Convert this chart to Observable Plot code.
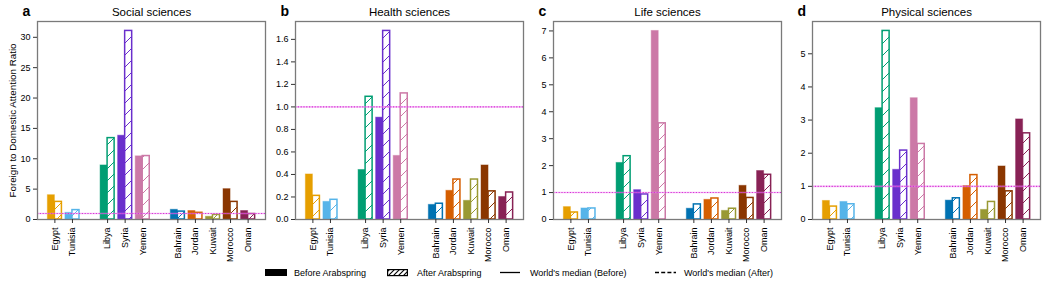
<!DOCTYPE html>
<html><head><meta charset="utf-8">
<script src="https://cdn.jsdelivr.net/npm/d3@7"></script>
<script src="https://cdn.jsdelivr.net/npm/@observablehq/plot@0.6"></script>
<style>
body{margin:0;background:#fff;font-family:"Liberation Sans",Arial,Helvetica,sans-serif;}
#wrap{position:relative;width:1046px;height:290px;overflow:hidden;background:#fff;}
.panel{position:absolute;top:0;}
.panel svg{overflow:visible;}
#legend{position:absolute;top:262px;left:255px;width:540px;height:22px;background:#fff;z-index:2;font-size:9px;color:#000;}
#legend .lab{position:absolute;top:5px;white-space:nowrap;line-height:12px;}
</style></head><body><div id="wrap"></div>
<script>
// ---- data ----
const countries = ["Egypt","Tunisia","Libya","Syria","Yemen","Bahrain","Jordan","Kuwait","Morocco","Oman"];
const groupOf   = [0,0,1,1,1,2,2,2,2,2];
const colors    = ["#E69F00","#56B4E9","#009E73","#6A2FCC","#CC79A7","#0072B2","#D55E00","#999933","#8A3600","#882255"];
const panelTitles = ["Social sciences","Health sciences","Life sciences","Physical sciences"];
const panelLetters = ["a","b","c","d"];

const socialBefore = [4.0,1.1,8.9,13.8,10.4,1.6,1.4,0.45,5.0,1.4];
const socialAfter  = [2.9,1.55,13.4,31.05,10.45,1.3,1.1,0.75,2.9,0.9];
const healthBefore = [0.40,0.157,0.44,0.905,0.565,0.13,0.255,0.166,0.48,0.20];
const healthAfter  = [0.21,0.175,1.09,1.675,1.12,0.14,0.355,0.355,0.25,0.24];
const lifeBefore   = [0.46,0.41,2.1,1.09,7.0,0.40,0.73,0.32,1.25,1.8];
const lifeAfter    = [0.26,0.41,2.35,0.93,3.57,0.56,0.78,0.40,0.80,1.66];
const physBefore   = [0.56,0.53,3.36,1.5,3.66,0.57,1.01,0.29,1.6,3.02];
const physAfter    = [0.39,0.46,5.69,2.08,2.28,0.64,1.34,0.53,0.85,2.6];

const medianBefore = [1,1,1,1];
const medianAfter  = [1,1,1,1];

const yTicksSocial  = [0,5,10,15,20,25,30];
const yTicksHealth  = [0,0.2,0.4,0.6,0.8,1.0,1.2,1.4,1.6];
const yTicksLife    = [0,1,2,3,4,5,6,7];
const yTicksPhys    = [0,1,2,3,4,5];

const yLabel = "Foreign to Domestic Attention Ratio";
const legendLabels = ["Before Arabspring","After Arabspring","World's median (Before)","World's median (After)"];

// ---- layout ----
const befores = [socialBefore, healthBefore, lifeBefore, physBefore];
const afters  = [socialAfter, healthAfter, lifeAfter, physAfter];
const yTicks  = [yTicksSocial, yTicksHealth, yTicksLife, yTicksPhys];
const yFormats = [d3.format("d"), d3.format(".1f"), d3.format("d"), d3.format("d")];
const frameLeft = [37, 295, 553, 812];
const frameW = 228;
const barW = 0.4;
const pos = countries.map((c, i) => i + groupOf[i]);
const posName = new Map(pos.map((p, i) => [p, countries[i]]));
const ext = [d3.min(pos) - barW, d3.max(pos) + barW];
const pad = (ext[1] - ext[0]) * 0.05;
const xDomain = [ext[0] - pad, ext[1] + pad];

const wrap = document.getElementById("wrap");

panelTitles.forEach((title, p) => {
  const rows = [];
  countries.forEach((c, i) => {
    rows.push({c, i, x1: pos[i] - barW, x2: pos[i], v: befores[p][i], after: false,
               fill: colors[i], stroke: colors[i]});
    rows.push({c, i, x1: pos[i], x2: pos[i] + barW, v: afters[p][i], after: true,
               fill: `url(#hatch-${p}-${i})`, stroke: colors[i]});
  });
  const yMax = d3.max([...befores[p], ...afters[p]]) * 1.05;
  const mL = p === 0 ? 37 : 30, mR = 2;
  const chart = Plot.plot({
    width: mL + frameW + mR, height: 270,
    marginLeft: mL, marginRight: mR, marginTop: 21, marginBottom: 51,
    style: {fontFamily: '"Liberation Sans",Arial,sans-serif', fontSize: "9px", color: "#000", background: "transparent", overflow: "visible"},
    x: {domain: xDomain},
    y: {domain: [0, yMax]},
    color: {type: "identity"},
    marks: [
      Plot.rect(rows.filter(d => !d.after), {x1: "x1", x2: "x2", y1: 0, y2: "v", fill: "fill", stroke: "stroke", strokeOpacity: 0.45, strokeWidth: 1}),
      Plot.rect(rows.filter(d => d.after), {x1: "x1", x2: "x2", y1: 0, y2: "v", fill: "fill", stroke: "stroke", strokeWidth: 1.5}),
      Plot.ruleY([medianBefore[p]], {stroke: "#EE88EE", strokeOpacity: 0.55, strokeWidth: 1.6}),
      Plot.ruleY([medianAfter[p]], {stroke: "#D633D6", strokeWidth: 1.1, strokeDasharray: "1.2,1.6"}),
      Plot.frame({stroke: "#7a7a7a", strokeWidth: 1.3}),
      Plot.axisY({ticks: yTicks[p], tickFormat: yFormats[p], tickSize: 4, tickPadding: 3, label: null, stroke: "#333"}),
      Plot.axisX({ticks: pos, tickFormat: d => posName.get(d), tickRotate: -90, tickSize: 4, tickPadding: 4, label: null, stroke: "#333"}),
      Plot.text([title], {frameAnchor: "top", lineAnchor: "middle", dy: -9, fontSize: 11.5, fill: "#000"}),
      Plot.text([panelLetters[p]], {frameAnchor: "top-left", lineAnchor: "middle", textAnchor: "start", dx: -15, dy: -10, fontSize: 14, fontWeight: "bold", fill: "#000"}),
      ...(p === 0 ? [Plot.text([yLabel], {frameAnchor: "left", textAnchor: "middle", lineAnchor: "middle", dx: -25, rotate: -90, fontSize: 9.8, fill: "#000"})] : [])
    ]
  });
  // hatch patterns
  const svg = d3.select(chart.tagName.toLowerCase() === "svg" ? chart : chart.querySelector("svg"));
  const defs = svg.insert("defs", ":first-child");
  countries.forEach((c, i) => {
    const pat = defs.append("pattern").attr("id", `hatch-${p}-${i}`)
      .attr("patternUnits", "userSpaceOnUse").attr("width", 12).attr("height", 12);
    pat.append("rect").attr("width", 12).attr("height", 12).attr("fill", "#fff");
    pat.append("path").attr("d", "M-1,13L13,-1M-4,4L4,-4M8,16L16,8")
      .attr("stroke", colors[i]).attr("stroke-width", 1).attr("fill", "none");
  });
  const div = document.createElement("div");
  div.className = "panel";
  div.style.left = (frameLeft[p] - mL) + "px";
  div.appendChild(chart);
  wrap.appendChild(div);
});

// ---- legend ----
const leg = document.createElement("div");
leg.id = "legend";
const symLeft = [10, 132, 245, 400];
const textLeft = [39, 162, 275, 429];
const symW = [22, 21, 20, 21];
legendLabels.forEach((lab, k) => {
  const s = document.createElementNS("http://www.w3.org/2000/svg", "svg");
  s.setAttribute("width", symW[k] + 2); s.setAttribute("height", 22);
  s.style.position = "absolute"; s.style.left = symLeft[k] + "px"; s.style.top = "0px";
  const sel = d3.select(s);
  if (k === 0) {
    sel.append("rect").attr("x", 0).attr("y", 7).attr("width", symW[k]).attr("height", 7).attr("fill", "#000");
  } else if (k === 1) {
    const pat = sel.append("defs").append("pattern").attr("id", "leghatch")
      .attr("patternUnits", "userSpaceOnUse").attr("width", 5).attr("height", 5);
    pat.append("rect").attr("width", 5).attr("height", 5).attr("fill", "#fff");
    pat.append("path").attr("d", "M-1,6L6,-1M-2,2L2,-2M3,7L7,3").attr("stroke", "#000").attr("stroke-width", 1.1);
    sel.append("rect").attr("x", 0.6).attr("y", 7.6).attr("width", symW[k] - 1.2).attr("height", 6)
      .attr("fill", "url(#leghatch)").attr("stroke", "#000").attr("stroke-width", 1.2);
  } else {
    sel.append("line").attr("x1", 0).attr("x2", symW[k]).attr("y1", 10.5).attr("y2", 10.5)
      .attr("stroke", "#000").attr("stroke-width", 1.3)
      .attr("stroke-dasharray", k === 3 ? "4,2.2" : null);
  }
  leg.appendChild(s);
  const t = document.createElement("div");
  t.className = "lab"; t.style.left = textLeft[k] + "px"; t.textContent = lab;
  leg.appendChild(t);
});
wrap.appendChild(leg);
</script></body></html>
